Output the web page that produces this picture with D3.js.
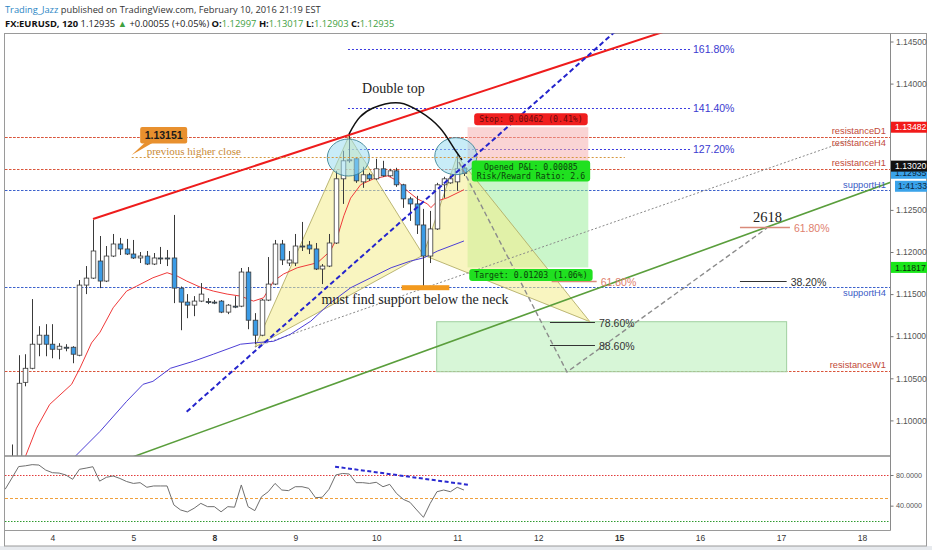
<!DOCTYPE html>
<html>
<head>
<meta charset="utf-8">
<script src="https://cdn.jsdelivr.net/npm/d3@7/dist/d3.min.js"></script>
<style>
html,body{margin:0;padding:0;background:#ffffff;overflow:hidden;}
svg{display:block;}
</style>
</head>
<body>
<svg id="chart" width="932" height="550"></svg>
<script>
// ================= DATA =================
const firstBar = 6; // bar index of first candle (2h bars, 12 per day, index 0 = Feb 3 00:00)
const openP  = [1.09155,1.09393,1.10452,1.10619,1.10905,1.11012,1.10905,1.10845,1.10869,1.10869,1.10774,1.11607,1.11690,1.11893,1.11655,1.11952,1.12095,1.12036,1.11976,1.11929,1.11952,1.11857,1.11929,1.11929,1.11929,1.11571,1.11405,1.11369,1.11417,1.11411,1.11405,1.11417,1.11286,1.11357,1.11357,1.11762,1.11190,1.11012,1.11429,1.11619,1.12095,1.11869,1.11869,1.12071,1.12083,1.12036,1.11798,1.11833,1.12107,1.12869,1.13083,1.13107,1.12833,1.12917,1.12869,1.12988,1.12905,1.12964,1.12798,1.12631,1.12571,1.12321,1.11952,1.12274,1.12798,1.12821,1.12833,1.12997];
const highP  = [1.09714,1.10774,1.10786,1.11441,1.11119,1.11143,1.11143,1.10917,1.10905,1.10881,1.11667,1.11833,1.12381,1.12190,1.12071,1.12214,1.12167,1.12155,1.12143,1.12000,1.12012,1.11988,1.12060,1.12024,1.12440,1.11590,1.11500,1.11476,1.11631,1.11452,1.11429,1.11429,1.11381,1.11476,1.11810,1.11821,1.11274,1.11441,1.11940,1.12143,1.12143,1.12012,1.12214,1.12357,1.12131,1.12107,1.11857,1.12214,1.12964,1.13202,1.13393,1.13119,1.13012,1.12940,1.13107,1.13083,1.12988,1.13000,1.12810,1.12655,1.12667,1.12512,1.12488,1.12821,1.12893,1.12905,1.13179,1.13017];
const lowP   = [1.09095,1.09274,1.10405,1.10607,1.10762,1.10762,1.10738,1.10726,1.10821,1.10679,1.10762,1.11500,1.11679,1.11571,1.11643,1.11940,1.11964,1.11964,1.11917,1.11869,1.11845,1.11845,1.11857,1.11833,1.11393,1.11071,1.11214,1.11238,1.11405,1.11381,1.11381,1.11274,1.11262,1.11333,1.11345,1.11083,1.10905,1.11000,1.11417,1.11607,1.11845,1.11833,1.11833,1.12012,1.11976,1.11786,1.11619,1.11821,1.12095,1.12571,1.13060,1.12821,1.12762,1.12845,1.12857,1.12893,1.12893,1.12774,1.12524,1.12369,1.12214,1.11595,1.11869,1.12262,1.12643,1.12810,1.12726,1.12903];
const closeP = [1.09488,1.10441,1.10619,1.10905,1.11012,1.10905,1.10845,1.10881,1.10863,1.10786,1.11607,1.11690,1.12012,1.11655,1.11952,1.12095,1.12036,1.11976,1.11929,1.11952,1.11857,1.11929,1.11923,1.11926,1.11571,1.11405,1.11369,1.11417,1.11500,1.11405,1.11399,1.11286,1.11369,1.11351,1.11762,1.11190,1.11012,1.11429,1.11619,1.12095,1.11905,1.11905,1.12071,1.12065,1.12036,1.11798,1.11833,1.12107,1.12869,1.13083,1.13095,1.12845,1.12917,1.12869,1.12988,1.12905,1.12964,1.12798,1.12631,1.12571,1.12321,1.11952,1.12274,1.12798,1.12869,1.12869,1.12988,1.12935];

// moving averages (read as bar index / price)
const maRedIdx = [7.9,9.65,11.6,14.85,16.1,17.8,19.06,21.0,23.0,24.5,26.9,29.0,30.5,31.9,33.9,35.85,37.9,39.9,41.8,43.3,44.8,46.25,48.3,51.3,53.2,54.2,55.2,56.2,57.7,59.6,61.7,63.15,64.6,66.1,67.6,68.1,69.1,70.6,73.0];
const maRedVal = [1.09551,1.09908,1.10190,1.10429,1.10623,1.10920,1.11048,1.11337,1.11536,1.11595,1.11694,1.11754,1.11714,1.11655,1.11583,1.11536,1.11500,1.11476,1.11417,1.11456,1.11655,1.11738,1.11813,1.11873,1.12012,1.12170,1.12430,1.12640,1.12800,1.12869,1.12905,1.12845,1.12726,1.12631,1.12571,1.12527,1.12607,1.12646,1.12740];
const maBlueIdx = [15.1,19.06,23.0,25.45,26.9,29.5,32.9,35.85,39.9,41.8,44.8,47.3,50.3,53.2,56.2,59.2,62.2,65.1,67.1,69.1,73.0];
const maBlueVal = [1.09551,1.09869,1.10226,1.10429,1.10464,1.10619,1.10702,1.10786,1.10905,1.10920,1.10940,1.11024,1.11179,1.11396,1.11575,1.11694,1.11813,1.11893,1.11932,1.12012,1.12131];

// RSI, one value per bar from bar 5 to bar 73
const rsiFirstBar = 5;
const rsiVal = [61.4,76,91,92,93.5,93,86.5,83,82.5,80,74.4,87.4,89,90.8,72,77,78.7,75.5,71.5,69,70,64,65.7,65.7,65.7,41,34.4,31.8,36.6,43,38.7,38.7,32,38.7,38,67,38.7,33.5,51.7,58.2,69,60.4,59.6,64.7,64.7,62.6,50.4,51,61.4,80,82,81.3,70,70,69,70.5,64.7,67.8,56,48.3,44.4,34.4,24.8,43,58.2,60.4,58.2,64,60.4];
const rsiLevels = [80,50,20];
const rsiTicks = [80,40];
const rsiTrendIdx = [53.9,73.9];
const rsiTrendVal = [90.8,67];

// axes
const priceTicks = [1.145,1.14,1.135,1.13,1.125,1.12,1.115,1.11,1.105,1.10];
const dayTicks = [12,24,36,48,60,72,84,96,108,120,132];
const dayLabels = ["4","5","8","9","10","11","12","15","16","17","18"];
const weekStarts = ["8","15"];

// horizontal levels
const levelNames  = ["resistanceD1","resistanceH4","resistanceH1","supportH1","supportH4","resistanceW1"];
const levelPrices = [1.13369,1.13369,1.12986,1.12736,1.11588,1.10587];
const levelKinds  = ["r","r","r","s","s","r"];
const levelTextBelow = [false,true,false,false,true,false];

// trend lines [idx1, price1, idx2, price2]
const redTrend   = [18.02,1.12392,110.0,1.14810];
const greenTrend = [23.99,1.09569,140.0,1.12937];
const blueTrend  = [31.9,1.10103,96.0,1.14660];
const greyTrend  = [42.03,1.10872,130.19,1.13330];

// double top arc
const arcIdx = [55.96,57.59,59.52,63.52,66.49,69.45,71.68,72.71];
const arcP   = [1.13401,1.13603,1.13710,1.13770,1.13666,1.13473,1.13212,1.13093];

// top circles
const topIdx = [55.86,71.79];
const topP   = [1.13122,1.13138];

// XABCD pattern
const patIdx = [42.03,55.96,66.97,71.97,91.67];
const patP   = [1.10872,1.13378,1.11964,1.13140,1.11172];

// projected path
const projIdx = [72.25,88.27,117.92];
const projP   = [1.13069,1.10575,1.12285];

// fib extension (upper)
const fibExtLabels = ["161.80%","141.40%","127.20%"];
const fibExtPrices = [1.14411,1.13710,1.13223];
const fibExtRange  = [55.81,106.5];

// fib marks (lower right)
const fibLabels = ["61.80%","78.60%","88.60%","38.20%","61.80%"];
const fibPrices = [1.11659,1.11172,1.10896,1.11659,1.12291];
const fibFrom   = [86.0,85.75,85.75,113.91,113.91];
const fibTo     = [92.67,92.42,92.42,120.83,121.32];

// target zone rectangle
const zoneIdx = [68.96,120.83];
const zoneP   = [1.11172,1.10578];

// short position tool
const posIdx = [73.54,91.43];
const stopPrice = 1.13482, entryPrice = 1.13020, targetPrice = 1.11817;

// neck support bar
const neckIdx = [63.77,70.83];
const neckPrice = 1.11576;

// previous higher close
const prevCloseIdx = 23.75, prevClosePrice = 1.13151, prevLineP = 1.13128, prevLineEnd = 96.85;

// text notes
const noteTexts = ["Double top","must find support below the neck","2618"];
const noteIdx   = [57.9,51.9,115.84];
const noteP     = [1.13888,1.11388,1.12360];

// ================= DRAW =================
const svg = d3.select("#chart");
const SANS = "'Liberation Sans', Arial, sans-serif";
const HEAD = "'Open Sans', 'Liberation Sans', sans-serif";
const SERIF = "'Liberation Serif', 'Times New Roman', serif";

const plotL = 5, plotR = 890.5, mainT = 33.5, mainB = 455.5, rsiT = 457, rsiB = 530;

const x = d3.scaleLinear().domain([12,132]).range([52.4,862]);
const y = d3.scaleLinear().domain([1.105,1.145]).range([378.3,41.5]);
const yr = d3.scaleLinear().domain([20,80]).range([521,475]);

svg.append("rect").attr("width",932).attr("height",550).attr("fill","#ffffff");
svg.append("rect").attr("x",0).attr("y",546).attr("width",932).attr("height",4).attr("fill","#e7eaee");

function fit(t,w){const L=t.node().getComputedTextLength();const fs=parseFloat(t.attr("font-size"));if(L>0)t.attr("font-size",fs*w/L);}

// header
const h1 = svg.append("text").attr("x",5).attr("y",12.5).attr("font-family",HEAD).attr("font-size",10).attr("fill","#333");
h1.append("tspan").attr("fill","#2b86c5").text("Trading_Jazz");
h1.append("tspan").text(" published on TradingView.com, February 10, 2016 21:19 EST");
fit(h1,316);
const h2 = svg.append("text").attr("x",5).attr("y",26.5).attr("font-family",HEAD).attr("font-size",10).attr("fill","#222");
const GRN = "#3fa13f";
[["FX:EURUSD, 120","#111",700],[" 1.12935 ","#222",400],["\u25B2",GRN,400],[" +0.00055 (+0.05%) ","#222",400],
 ["O:","#111",700],["1.12997",GRN,400],[" H:","#111",700],["1.13017",GRN,400],[" L:","#111",700],["1.12903",GRN,400],[" C:","#111",700],["1.12935",GRN,400]]
 .forEach(p=>h2.append("tspan").attr("fill",p[1]).attr("font-weight",p[2]).text(p[0]));
fit(h2,390);

// frame
svg.append("rect").attr("x",4.5).attr("y",mainT).attr("width",922).attr("height",546-mainT).attr("fill","none").attr("stroke","#9a9a9a");

const defs = svg.append("defs");
defs.append("clipPath").attr("id","clipMain").append("rect").attr("x",plotL).attr("y",mainT).attr("width",plotR-plotL).attr("height",mainB-mainT+0.5);
defs.append("clipPath").attr("id","clipRsi").append("rect").attr("x",plotL).attr("y",rsiT).attr("width",plotR-plotL).attr("height",rsiB-rsiT);

const g = svg.append("g").attr("clip-path","url(#clipMain)");

// horizontal levels
levelNames.forEach((nm,k)=>{
  const yy = Math.round(y(levelPrices[k]))+0.5;
  g.append("line").attr("x1",plotL).attr("x2",plotR).attr("y1",yy).attr("y2",yy)
   .attr("stroke",levelKinds[k]==="r"?"#d9553b":"#3d62cc").attr("stroke-width",1).attr("stroke-dasharray","2.5,1.5");
});

// fib extension lines
fibExtPrices.forEach((p,k)=>{
  const yy = Math.round(y(p))+0.5;
  g.append("line").attr("x1",x(fibExtRange[0])).attr("x2",x(fibExtRange[1])).attr("y1",yy).attr("y2",yy)
   .attr("stroke","#3a3ae0").attr("stroke-width",1).attr("stroke-dasharray","2,2");
});

// position zones
g.append("rect").attr("x",x(posIdx[0])).attr("width",x(posIdx[1])-x(posIdx[0]))
 .attr("y",y(stopPrice)).attr("height",y(entryPrice)-y(stopPrice)).attr("fill","#f6a9a9").attr("opacity",0.5);
g.append("rect").attr("x",x(posIdx[0])).attr("width",x(posIdx[1])-x(posIdx[0]))
 .attr("y",y(entryPrice)).attr("height",y(targetPrice)-y(entryPrice)).attr("fill","#96ee96").attr("opacity",0.5);

// target zone
g.append("rect").attr("x",x(zoneIdx[0])).attr("width",x(zoneIdx[1])-x(zoneIdx[0]))
 .attr("y",y(zoneP[0])).attr("height",y(zoneP[1])-y(zoneP[0]))
 .attr("fill","#bdf0bd").attr("fill-opacity",0.6).attr("stroke","#9fcf9f").attr("stroke-width",1);

// XABCD pattern
const pt = k=>[x(patIdx[k]),y(patP[k])];
[[0,1,2],[2,3,4]].forEach(tri=>{
  g.append("path").attr("d","M"+tri.map(k=>pt(k).join(",")).join("L")+"Z")
   .attr("fill","#f4ec8c").attr("fill-opacity",0.55).attr("stroke","#b3ae68").attr("stroke-width",0.9);
});

// grey dotted trend
g.append("line").attr("x1",x(greyTrend[0])).attr("y1",y(greyTrend[1])).attr("x2",x(greyTrend[2])).attr("y2",y(greyTrend[3]))
 .attr("stroke","#8a8a8a").attr("stroke-width",1).attr("stroke-dasharray","2,2");

// moving averages
const lineGen = d3.line().x(d=>x(d[0])).y(d=>y(d[1]));
g.append("path").attr("d",lineGen(maRedIdx.map((v,k)=>[v,maRedVal[k]]))).attr("fill","none").attr("stroke","#f03a3a").attr("stroke-width",1);
g.append("path").attr("d",lineGen(maBlueIdx.map((v,k)=>[v,maBlueVal[k]]))).attr("fill","none").attr("stroke","#4d3fd6").attr("stroke-width",1);

// candles
const candles = openP.map((o,k)=>({i:firstBar+k,o,h:highP[k],l:lowP[k],c:closeP[k]}));
const bw = 4.6;
const cg = g.append("g");
candles.forEach(d=>{
  const cx = Math.round(x(d.i))+0.5;
  cg.append("line").attr("x1",cx).attr("x2",cx).attr("y1",y(d.h)).attr("y2",y(d.l)).attr("stroke","#3a3a3a").attr("stroke-width",1);
  const top = Math.min(y(d.o),y(d.c)), ht = Math.max(1,Math.abs(y(d.o)-y(d.c)));
  cg.append("rect").attr("x",cx-bw/2).attr("y",top).attr("width",bw).attr("height",ht)
    .attr("fill",d.c>=d.o?"#ffffff":"#3b9be6").attr("stroke","#3a3a3a").attr("stroke-width",0.8);
});

// top circles
topIdx.forEach((v,k)=>{
  g.append("ellipse").attr("cx",x(v)).attr("cy",y(topP[k])).attr("rx",21).attr("ry",18.5)
   .attr("fill","#9adcf0").attr("fill-opacity",0.55).attr("stroke","#3d8596").attr("stroke-width",0.9);
});

// trend lines
g.append("line").attr("x1",x(redTrend[0])).attr("y1",y(redTrend[1])).attr("x2",x(redTrend[2])).attr("y2",y(redTrend[3]))
 .attr("stroke","#ee1c1c").attr("stroke-width",2);
g.append("line").attr("x1",x(greenTrend[0])).attr("y1",y(greenTrend[1])).attr("x2",x(greenTrend[2])).attr("y2",y(greenTrend[3]))
 .attr("stroke","#5a9e3c").attr("stroke-width",1.6);
g.append("line").attr("x1",x(blueTrend[0])).attr("y1",y(blueTrend[1])).attr("x2",x(blueTrend[2])).attr("y2",y(blueTrend[3]))
 .attr("stroke","#2424cc").attr("stroke-width",2).attr("stroke-dasharray","5,3");

// double top arc
g.append("path").attr("d",d3.line().curve(d3.curveCatmullRom).x(d=>x(d[0])).y(d=>y(d[1]))(arcIdx.map((v,k)=>[v,arcP[k]])))
 .attr("fill","none").attr("stroke","#111").attr("stroke-width",1.5);

// projection dashed path
g.append("path").attr("d",lineGen(projIdx.map((v,k)=>[v,projP[k]]))).attr("fill","none")
 .attr("stroke","#8c8c8c").attr("stroke-width",1.4).attr("stroke-dasharray","5,3");

// previous higher close dotted line
g.append("line").attr("x1",x(prevCloseIdx)).attr("x2",x(prevLineEnd)).attr("y1",Math.round(y(prevLineP))+0.5).attr("y2",Math.round(y(prevLineP))+0.5)
 .attr("stroke","#d6973e").attr("stroke-width",1).attr("stroke-dasharray","2,2");

// neck support bar
g.append("rect").attr("x",x(neckIdx[0])).attr("width",x(neckIdx[1])-x(neckIdx[0])).attr("y",y(neckPrice)-2.5).attr("height",5).attr("fill","#f39a1e");

// fib marks lower
fibLabels.forEach((lb,k)=>{
  const yy = Math.round(y(fibPrices[k]))+0.5;
  const col = lb==="61.80%"?"#e0806e":"#333";
  g.append("line").attr("x1",x(fibFrom[k])).attr("x2",x(fibTo[k])).attr("y1",yy).attr("y2",yy).attr("stroke",lb==="61.80%"?"#d98a7a":"#333").attr("stroke-width",lb==="61.80%"?1.6:1.2);
  g.append("text").attr("x",x(fibTo[k])+4).attr("y",yy+4).attr("font-family",SANS).attr("font-size",10.5).attr("fill",col).text(lb);
});

// fib ext labels
fibExtLabels.forEach((lb,k)=>{
  g.append("text").attr("x",x(fibExtRange[1])+3).attr("y",y(fibExtPrices[k])+3.8).attr("font-family",SANS).attr("font-size",10.5).attr("fill","#3a3ad0").text(lb);
});

// level labels
levelNames.forEach((nm,k)=>{
  const yy = y(levelPrices[k]);
  g.append("text").attr("x",886).attr("y",levelTextBelow[k]?yy+9.5:yy-2.5).attr("text-anchor","end")
   .attr("font-family",SANS).attr("font-size",9.3).attr("fill",levelKinds[k]==="r"?"#c24a38":"#3b5cc6").text(nm);
});

// notes
noteTexts.forEach((t,k)=>{
  g.append("text").attr("x",x(noteIdx[k])).attr("y",y(noteP[k])).attr("font-family",SERIF).attr("font-size",k===2?14.5:14).attr("fill","#222").text(t);
});

// previous higher close callout
{
  const ax = x(prevCloseIdx), ay = y(prevClosePrice);
  const bx = ax+8.5, byTop = ay-28, bwid = 47, bh = 16.5;
  g.append("path").attr("d",`M${ax},${ay}L${bx+5},${byTop+bh-1}L${bx+13},${byTop+bh-1}Z`).attr("fill","#e8902e");
  g.append("rect").attr("x",bx).attr("y",byTop).attr("width",bwid).attr("height",bh).attr("rx",2).attr("fill","#e8902e");
  g.append("text").attr("x",bx+bwid/2).attr("y",byTop+12).attr("text-anchor","middle").attr("font-family",SANS).attr("font-size",10.5).attr("font-weight",700).attr("fill","#1a1a1a").text("1.13151");
  g.append("text").attr("x",x(25.98)).attr("y",ay).attr("font-family",SERIF).attr("font-size",11).attr("fill","#c98a36").text("previous higher close");
}

// position labels
function posLabel(lines,cx,cy,fill,tcol){
  const gg = g.append("g");
  const r = gg.append("rect").attr("rx",3).attr("fill",fill);
  const ts = lines.map((l,k)=>gg.append("text").attr("x",cx).attr("y",cy+3+(k-(lines.length-1)/2)*9).attr("text-anchor","middle")
     .attr("font-family","'DejaVu Sans Mono','Liberation Mono',monospace").attr("font-size",8.2).attr("fill",tcol).text(l));
  const w = d3.max(ts,t=>t.node().getComputedTextLength())+10;
  const h = lines.length*9+3;
  r.attr("x",cx-w/2).attr("y",cy-h/2).attr("width",w).attr("height",h);
}
const pcx = (x(posIdx[0])+x(posIdx[1]))/2;
posLabel(["Stop: 0.00462 (0.41%)"],pcx+3,y(stopPrice)-8,"#f01e1e","#6a0a0a");
posLabel(["Opened P&L: 0.00085","Risk/Reward Ratio: 2.6"],pcx+3,y(entryPrice)+5,"#20e020","#0b3f0b");
posLabel(["Target: 0.01203 (1.06%)"],pcx+3,y(targetPrice)+7.5,"#20e020","#0b3f0b");

// ===== RSI pane
const gr = svg.append("g").attr("clip-path","url(#clipRsi)");
const rsiCols = ["#e23b3b","#f0a03c","#2f9a2f"], rsiDash = ["1.5,1.5","3,2","1.5,1.5"];
rsiLevels.forEach((lv,k)=>{
  const yy = Math.round(yr(lv))+0.5;
  gr.append("line").attr("x1",plotL).attr("x2",plotR).attr("y1",yy).attr("y2",yy).attr("stroke",rsiCols[k]).attr("stroke-width",1).attr("stroke-dasharray",rsiDash[k]);
});
gr.append("path").attr("d",d3.line().x((d,k)=>x(rsiFirstBar+k)).y(d=>yr(d))(rsiVal)).attr("fill","none").attr("stroke","#6e6e6e").attr("stroke-width",1);
gr.append("line").attr("x1",x(rsiTrendIdx[0])).attr("y1",yr(rsiTrendVal[0])).attr("x2",x(rsiTrendIdx[1])).attr("y2",yr(rsiTrendVal[1]))
  .attr("stroke","#2a2ad0").attr("stroke-width",2).attr("stroke-dasharray","4,2.5");

// pane borders
svg.append("line").attr("x1",4.5).attr("x2",890.5).attr("y1",456).attr("y2",456).attr("stroke","#8a8a8a").attr("stroke-width",1.6);
svg.append("line").attr("x1",4.5).attr("x2",890.5).attr("y1",530.5).attr("y2",530.5).attr("stroke","#9a9a9a");
svg.append("line").attr("x1",890.5).attr("x2",890.5).attr("y1",mainT).attr("y2",530.5).attr("stroke","#8a8a8a");

// ===== axes
const ay = svg.append("g").attr("transform","translate(890.5,0)").call(d3.axisRight(y).tickValues(priceTicks).tickFormat(d3.format(".5f")).tickSize(3).tickPadding(2.5));
ay.select(".domain").remove();
ay.selectAll("text").attr("font-family",SANS).attr("font-size",8.5).attr("fill","#555");
ay.selectAll("line").attr("stroke","#777");

const ar = svg.append("g").attr("transform","translate(890.5,0)").call(d3.axisRight(yr).tickValues(rsiTicks).tickFormat(d3.format(".4f")).tickSize(3).tickPadding(2.5));
ar.select(".domain").remove();
ar.selectAll("text").attr("font-family",SANS).attr("font-size",7.2).attr("fill","#555");
ar.selectAll("line").attr("stroke","#777");

const ax = svg.append("g").attr("transform","translate(0,530)").call(d3.axisBottom(x).tickValues(dayTicks).tickFormat((d,k)=>dayLabels[k]).tickSize(0).tickPadding(5));
ax.select(".domain").remove();
ax.selectAll("text").attr("font-family",SANS).attr("font-size",8.5).attr("fill","#333")
  .attr("font-weight",function(){return weekStarts.includes(this.textContent)?700:400;});

// price boxes on axis
defs.append("clipPath").attr("id","clipLast").append("rect").attr("x",890).attr("y",y(entryPrice)+5.5).attr("width",40).attr("height",12);
function priceBox(label,yc,fill,tcol,x0,clip){
  const gg = svg.append("g");
  gg.append("rect").attr("x",x0).attr("y",yc-5.5).attr("width",927-x0).attr("height",11).attr("fill",fill);
  const t = gg.append("text").attr("x",x0+(x0>892?3:4)).attr("y",yc+3.2).attr("font-family",SANS).attr("font-size",8.7).attr("fill",tcol).text(label);
  if(clip) t.attr("clip-path","url(#"+clip+")");
}
priceBox(d3.format(".5f")(closeP[closeP.length-1]),y(closeP[closeP.length-1]),"#3aa3ea","#0d2a44",891,"clipLast");
priceBox("1:41:33",y(closeP[closeP.length-1])+13,"#3aa3ea","#0d2a44",895);
priceBox(d3.format(".5f")(stopPrice),y(stopPrice),"#f21a1a","#ffffff",891);
priceBox(d3.format(".5f")(entryPrice),y(entryPrice),"#111111","#ffffff",891);
priceBox(d3.format(".5f")(targetPrice),y(targetPrice),"#19e619","#0a2a0a",891);
</script>
</body>
</html>
